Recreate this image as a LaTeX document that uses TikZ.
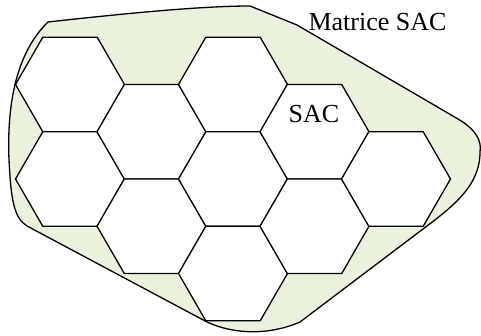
\documentclass[tikz,border=0pt]{standalone}
\usepackage{fontspec}
\setmainfont{Liberation Serif}
\usepackage{tikz}
\usetikzlibrary{shapes.geometric}
\definecolor{paleolive}{HTML}{EAF1DD}

\begin{document}
\begin{tikzpicture}[x=1pt, y=-1pt, line width=1.3pt,
    hexa/.style={draw, fill=white, regular polygon, regular polygon sides=6, minimum size=109pt, inner sep=0pt}]
    \useasboundingbox (0,0) rectangle (481,336);
    \draw[fill=paleolive] (48,22) .. controls (120,14) and (200,6) .. (250,6)
        -- (297,25) -- (458,119)
        .. controls (475,129) and (482,140) .. (480,152)
        .. controls (480,185) and (455,205) .. (423,229)
        -- (300,322)
        .. controls (270,335) and (235,335) .. (207,322)
        -- (27,226)
        .. controls (14,218) and (11,200) .. (9,160)
        .. controls (7,110) and (14,55) .. (48,22) -- cycle;
    \node[hexa] (H11) at (70,84.5) {};
    \node[hexa] (H12) at (70,179) {};
    \node[hexa] (H21) at (151.5,131.75) {};
    \node[hexa] (H22) at (151.5,226.25) {};
    \node[hexa] (H31) at (233,84.5) {};
    \node[hexa] (H32) at (233,179) {};
    \node[hexa] (H33) at (233,273.5) {};
    \node[hexa] (H41) at (314.5,131.75) {};
    \node[hexa] (H42) at (314.5,226.25) {};
    \node[hexa] (H51) at (396,179) {};
    \node[font=\fontsize{26}{30}\selectfont] (sac) at (314,114) {SAC};
    \node[font=\fontsize{26}{30}\selectfont] (matrice) at (377.5,22) {Matrice SAC};
\end{tikzpicture}
\end{document}
